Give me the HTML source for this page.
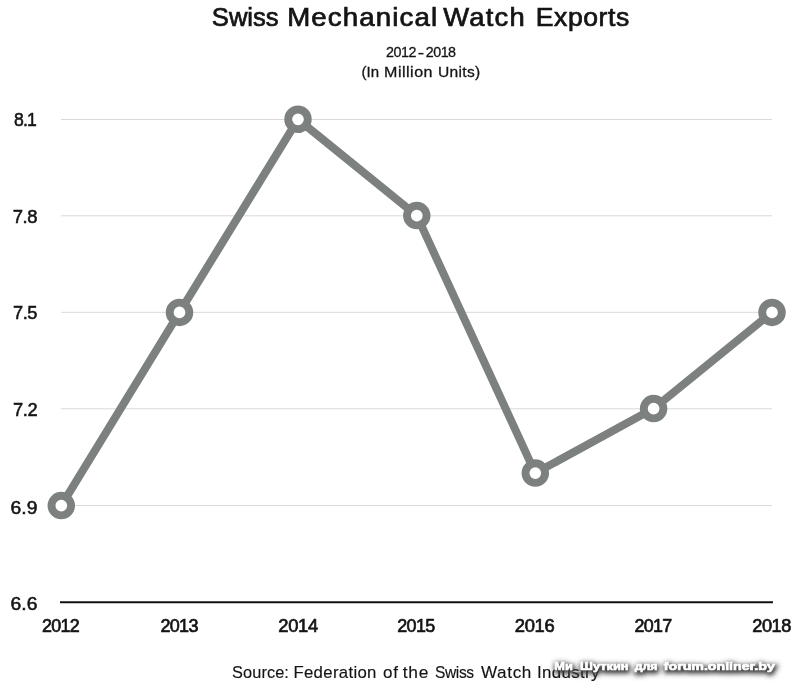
<!DOCTYPE html>
<html>
<head>
<meta charset="utf-8">
<title>Swiss Mechanical Watch Exports</title>
<style>
  html, body { margin: 0; padding: 0; background: #ffffff; }
  body { width: 800px; height: 690px; overflow: hidden; font-family: "Liberation Sans", sans-serif; }
  svg { display: block; }
  text { font-family: "Liberation Sans", sans-serif; fill: #141414; }
  .h { stroke: #141414; stroke-width: 0.7px; }
  .l { stroke: #141414; stroke-width: 0.55px; }
  .s { stroke: #141414; stroke-width: 0.3px; }
  .x { stroke: #141414; stroke-width: 0.7px; }
  .f { stroke: #141414; stroke-width: 0.15px; }
  .w { fill: #ffffff; stroke: #ffffff; stroke-width: 0.7px; }
  .ws { fill: #3a3a3a; stroke: #3a3a3a; stroke-width: 3.0px; }
</style>
</head>
<body>
<svg width="800" height="690" viewBox="0 0 800 690">
  <defs>
    <filter id="ident" x="0" y="0" width="800" height="690" filterUnits="userSpaceOnUse"><feOffset dx="0" dy="0"/></filter>
    <filter id="wmblur" x="-10%" y="-100%" width="120%" height="300%">
      <feGaussianBlur stdDeviation="2.4"/>
    </filter>
  </defs>
  <rect x="0" y="0" width="800" height="690" fill="#ffffff"/>

  <!-- gridlines -->
  <g stroke="#d9d9d9" stroke-width="1">
    <line x1="61" y1="119.5" x2="772" y2="119.5"/>
    <line x1="61" y1="215.8" x2="772" y2="215.8"/>
    <line x1="61" y1="312.3" x2="772" y2="312.3"/>
    <line x1="61" y1="408.8" x2="772" y2="408.8"/>
    <line x1="61" y1="505.5" x2="772" y2="505.5"/>
  </g>

  <!-- baseline -->
  <line x1="60" y1="602.2" x2="773" y2="602.2" stroke="#111111" stroke-width="2"/>

  <!-- all text (title, subtitle, axis labels, source) -->
<g filter="url(#ident)">
  <text class="h" transform="translate(211.85 26.1) scale(0.9997 1)" font-size="25.6" letter-spacing="-0.005">Swiss</text>
  <text class="h" transform="translate(287.19 26.1) scale(1.0804 1)" font-size="25.6" letter-spacing="1.040">Mechanical</text>
  <text class="h" transform="translate(443.35 26.1) scale(1.0690 1)" font-size="25.6" letter-spacing="1.134">Watch</text>
  <text class="h" transform="translate(535.77 26.1) scale(1.0392 1)" font-size="25.6" letter-spacing="0.528">Exports</text>
  <text class="s" transform="translate(386.05 57.3) scale(0.9542 1)" font-size="15" letter-spacing="-0.529">2012</text>
  <text class="s" transform="translate(425.75 57.3) scale(0.9542 1)" font-size="15" letter-spacing="-0.529">2018</text>
  <text class="s" transform="translate(361.55 77.3) scale(1.0011 1)" font-size="15" letter-spacing="0.009">(In</text>
  <text class="s" transform="translate(384.08 77.3) scale(1.0708 1)" font-size="15" letter-spacing="0.454">Million</text>
  <text class="s" transform="translate(438.01 77.3) scale(1.0396 1)" font-size="15" letter-spacing="0.291">Units)</text>
  <text class="l" transform="translate(13.97 126.4) scale(0.9304 1)" font-size="19.0" letter-spacing="-0.966">8.1</text>
  <text class="l" transform="translate(12.68 223.1) scale(0.9711 1)" font-size="19.0" letter-spacing="-0.385">7.8</text>
  <text class="l" transform="translate(13.03 319.4) scale(0.9604 1)" font-size="19.0" letter-spacing="-0.532">7.5</text>
  <text class="l" transform="translate(13.03 416.3) scale(0.9643 1)" font-size="19.0" letter-spacing="-0.479">7.2</text>
  <text class="l" transform="translate(10.38 513.5) scale(1.0156 1)" font-size="19.0" letter-spacing="0.198">6.9</text>
  <text class="l" transform="translate(10.38 610.1) scale(1.0156 1)" font-size="19.0" letter-spacing="0.198">6.6</text>
  <text class="x" transform="translate(42.05 632.1) scale(0.9468 1)" font-size="18.9" letter-spacing="-0.778">2012</text>
  <text class="x" transform="translate(160.40 632.1) scale(0.9522 1)" font-size="18.9" letter-spacing="-0.695">2013</text>
  <text class="x" transform="translate(278.35 632.1) scale(0.9733 1)" font-size="18.9" letter-spacing="-0.380">2014</text>
  <text class="x" transform="translate(397.35 632.1) scale(0.9492 1)" font-size="18.9" letter-spacing="-0.741">2015</text>
  <text class="x" transform="translate(514.85 632.1) scale(0.9733 1)" font-size="18.9" letter-spacing="-0.380">2016</text>
  <text class="x" transform="translate(634.60 632.1) scale(0.9462 1)" font-size="18.9" letter-spacing="-0.787">2017</text>
  <text class="x" transform="translate(752.35 632.1) scale(0.9643 1)" font-size="18.9" letter-spacing="-0.513">2018</text>
  <text class="f" transform="translate(232.07 678.3) scale(1.0087 1)" font-size="16.2" letter-spacing="0.079">Source:</text>
  <text class="f" transform="translate(293.44 678.3) scale(1.0362 1)" font-size="16.2" letter-spacing="0.293">Federation</text>
  <text class="f" transform="translate(383.07 678.3) scale(1.0517 1)" font-size="16.2" letter-spacing="0.688">of</text>
  <text class="f" transform="translate(402.68 678.3) scale(1.0744 1)" font-size="16.2" letter-spacing="0.779">the</text>
  <text class="f" transform="translate(435.07 678.3) scale(0.9606 1)" font-size="16.2" letter-spacing="-0.433">Swiss</text>
  <text class="f" transform="translate(480.93 678.3) scale(1.0579 1)" font-size="16.2" letter-spacing="0.606">Watch</text>
  <text class="f" transform="translate(536.93 678.3) scale(1.0423 1)" font-size="16.2" letter-spacing="0.333">Industry</text>
  <rect x="418.4" y="52.9" width="5.1" height="1.5" fill="#141414"/>
  </g>

  <!-- data line -->
  <polyline fill="none" stroke="#7c817f" stroke-width="8" stroke-linejoin="round" stroke-linecap="round"
    points="61.3,505.6 179.5,312.4 298,119.3 416.8,215.6 535.3,473.1 653.6,408.6 772,312.4"/>
  <g fill="#ffffff" stroke="#7c817f" stroke-width="7.9">
    <circle cx="61.3" cy="505.6" r="9.8"/>
    <circle cx="179.5" cy="312.4" r="9.8"/>
    <circle cx="298" cy="119.3" r="9.8"/>
    <circle cx="416.8" cy="215.6" r="9.8"/>
    <circle cx="535.3" cy="473.1" r="9.8"/>
    <circle cx="653.6" cy="408.6" r="9.8"/>
    <circle cx="772" cy="312.4" r="9.8"/>
  </g>

  <!-- watermark -->
<g filter="url(#wmblur)" transform="translate(1.0 1.3)">
  <text class="ws" transform="translate(554.35 670.3) scale(1.1157 1)" font-size="11.5" font-weight="bold" letter-spacing="0.000">Ми_Шуткин</text>
  <text class="ws" transform="translate(634.75 670.3) scale(1.0628 1)" font-size="11.5" font-weight="bold" letter-spacing="0.000">для</text>
  <text class="ws" transform="translate(663.75 670.3) scale(1.2338 1)" font-size="11.5" font-weight="bold" letter-spacing="0.000">forum.onliner.by</text>
  </g>
  <g filter="url(#ident)">
  <text class="w" transform="translate(554.35 670.3) scale(1.1157 1)" font-size="11.5" font-weight="bold" letter-spacing="0.000">Ми<tspan fill-opacity="0.55" stroke-opacity="0.3">_</tspan>Шуткин</text>
  <text class="w" transform="translate(634.75 670.3) scale(1.0628 1)" font-size="11.5" font-weight="bold" letter-spacing="0.000">для</text>
  <text class="w" transform="translate(663.75 670.3) scale(1.2338 1)" font-size="11.5" font-weight="bold" letter-spacing="0.000">forum.onliner.by</text>
  </g>
</svg>
</body>
</html>
